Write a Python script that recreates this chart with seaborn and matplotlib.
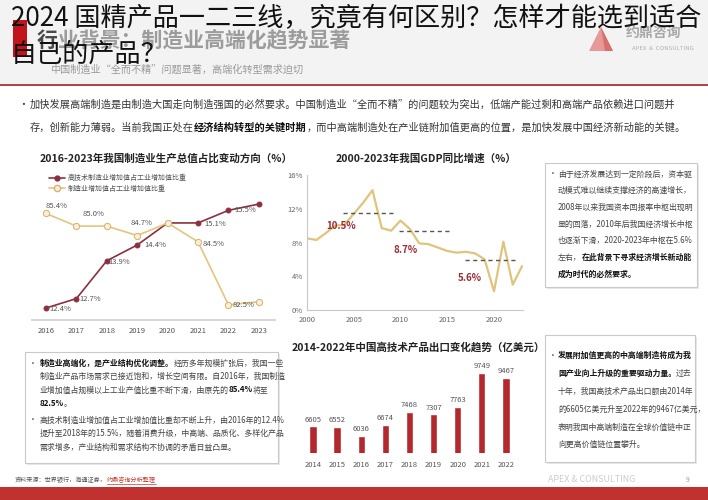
import matplotlib
matplotlib.use("Agg")
import matplotlib.pyplot as plt
import seaborn as sns
from matplotlib.patches import Rectangle, Polygon
from matplotlib.lines import Line2D

# ---------------- data ----------------
mfg_years = [2016, 2017, 2018, 2019, 2020, 2021, 2022, 2023]
hightech_share = [12.4, 12.7, 13.9, 14.4, 15.1, 15.1, 15.5, 15.7]
mfg_share = [85.4, 85.0, 85.0, 84.7, 85.1, 84.5, 82.5, 82.6]
hightech_labeled = [True, True, True, True, False, True, True, False]
mfg_labeled = [True, True, False, True, False, True, True, False]
legend_labels = ["高技术制造业增加值占工业增加值比重", "制造业增加值占工业增加值比重"]

gdp_years = list(range(2000, 2024))
gdp_growth = [8.5, 8.3, 9.1, 10.0, 10.1, 11.4, 12.7, 14.2, 9.7, 9.4, 10.6, 9.6,
              7.9, 7.8, 7.4, 7.0, 6.8, 6.9, 6.7, 6.0, 2.2, 8.1, 3.0, 5.2]
period_start = [2003.9, 2009.8, 2016.9]
period_end = [2009.4, 2015.5, 2022.6]
period_line = [11.5, 9.4, 5.9]
period_avg_labels = ["10.5%", "8.7%", "5.6%"]
period_label_x = [2003.6, 2010.5, 2017.4]
period_label_y = [9.95, 7.1, 3.8]
gdp_yticks = [0, 4, 8, 12, 16]
gdp_xticks = [2000, 2005, 2010, 2015, 2020]

export_years = ["2014", "2015", "2016", "2017", "2018", "2019", "2020", "2021", "2022"]
exports = [6605, 6552, 6036, 6674, 7468, 7307, 7763, 9749, 9467]

# ---------------- style ----------------
RED = "#8c2f3e"
YEL = "#e3c57f"
BAR = "#b3282d"
GRAY = "#555555"

sns.set_theme(style="white")
plt.rcParams['font.family'] = ['Noto Sans CJK SC', 'DejaVu Sans']
plt.rcParams['axes.unicode_minus'] = False

W, H = 708, 500
fig = plt.figure(figsize=(7.08, 5.0), dpi=100)
fig.patch.set_facecolor('white')
renderer = fig.canvas.get_renderer()


def fx(x):
    return x / W


def fy(y):
    return 1 - y / H


def rect(x0, y0, x1, y1, z=0.5, **kw):
    p = Rectangle((fx(x0), fy(y1)), (x1 - x0) / W, (y1 - y0) / H,
                  transform=fig.transFigure, zorder=z, **kw)
    fig.add_artist(p)
    return p


def runs(x, y, parts, size, va='center', z=3):
    cx = x
    for txt, bold, color in parts:
        t = fig.text(fx(cx), fy(y), txt, fontsize=size,
                     fontweight='bold' if bold else 'normal',
                     color=color, ha='left', va=va, zorder=z)
        bb = t.get_window_extent(renderer=renderer)
        cx += bb.width
    return cx


def box(x0, y0, x1, y1):
    rect(x0 + 2, y0 + 2, x1 + 2, y1 + 2, z=0.6, facecolor='#e8e8e8', edgecolor='none')
    rect(x0, y0, x1, y1, z=0.7, facecolor='white', edgecolor='#c9c9c9', linewidth=0.8)


# ---------------- slide background ----------------
rect(0, 0, 708, 84, facecolor='#f3f3f3', edgecolor='none')
fig.add_artist(Line2D([0, 1], [fy(85), fy(85)], transform=fig.transFigure,
                      color='#a0343a', lw=1.3, zorder=1))
rect(0, 487, 708, 500, facecolor='#c0322f', edgecolor='none')
rect(13, 20, 27, 57, facecolor='#c2141c', edgecolor='none', z=1)

runs(37, 40, [("行", True, "#4a4a4a"), ("业背景：制造业高端化趋势显著", True, "#9c9c9c")], 15)
runs(50, 70, [("中国制造业“全而不精”问题显著，高端化转型需求迫切", False, "#9a9a9a")], 7.3)

# logo
fig.add_artist(Polygon([(fx(589), fy(51)), (fx(601), fy(27)), (fx(613), fy(51))],
                       closed=True, transform=fig.transFigure,
                       facecolor='#e59a98', edgecolor='none', zorder=1))
fig.add_artist(Polygon([(fx(601), fy(27)), (fx(605), fy(51)), (fx(613), fy(51))],
                       closed=True, transform=fig.transFigure,
                       facecolor='#d8706e', edgecolor='none', zorder=1))
runs(626, 33, [("约鼎咨询", True, "#a8a8a8")], 10)
runs(632, 49, [("APEX  &  CONSULTING", False, "#b0b0b0")], 4.3)

# overlay title
runs(11, 19, [("2024 国精产品一二三线，究竟有何区别？怎样才能选到适合", False, "#111111")], 18.8, z=10)
runs(11, 54, [("自己的产品？", False, "#111111")], 18.8, z=10)

# bullet intro
runs(18, 105, [("•", False, "#333333")], 7)
runs(30, 105, [("加快发展高端制造是由制造大国走向制造强国的必然要求。中国制造业“全而不精”的问题较为突出，低端产能过剩和高端产品依赖进口问题并", False, "#333333")], 7.35)
runs(30, 128, [("存，创新能力薄弱。当前我国正处在", False, "#333333"),
               ("经济结构转型的关键时期", True, "#111111"),
               ("，而中高端制造处在产业链附加值更高的位置，是加快发展中国经济新动能的关键。", False, "#333333")], 7.35)

# chart titles
runs(40, 158, [("2016-2023年我国制造业生产总值占比变动方向（%）", True, "#222222")], 7.6)
fig.text(fx(426), fy(158), "2000-2023年我国GDP同比增速（%）", fontsize=7.6,
         fontweight='bold', color='#222222', ha='center', va='center')
runs(292, 347, [("2014-2022年中国高技术产品出口变化趋势（亿美元）", True, "#222222")], 7.6)

# ---------------- left chart ----------------
ax1 = fig.add_axes([fx(32), fy(320), (275 - 32) / W, (320 - 170) / H])
ax1.set_facecolor('none')
sns.lineplot(x=mfg_years, y=hightech_share, ax=ax1, color=RED, marker='o',
             markersize=3.5, markeredgecolor=RED, linewidth=1.2, legend=False)
ax1b = ax1.twinx()
sns.lineplot(x=mfg_years, y=mfg_share, ax=ax1b, color=YEL, marker='o',
             markersize=4.5, markerfacecolor='#f7efdc', markeredgecolor='#d7b46a',
             linewidth=1.2, legend=False)
ax1.set_xlim(2015.54, 2023.53)
ax1.set_ylim(12.02, 16.78)
ax1b.set_ylim(82.02, 86.78)
for a in (ax1, ax1b):
    for s in a.spines.values():
        s.set_visible(False)
    a.set_yticks([])
    a.set_ylabel('')
ax1.spines['bottom'].set_visible(True)
ax1.spines['bottom'].set_color('#d0d0d0')
ax1.set_xticks(mfg_years)
ax1.set_xticklabels([str(y) for y in mfg_years])
ax1.tick_params(axis='x', length=0, pad=5, labelsize=5.5, labelcolor=GRAY)
ax1.set_xlabel('')

red_off = [(3, -1), (3, 0), (2, -1), (7, 0), (0, 0), (6, -1), (6, 0), (0, 0)]
yel_off = [(0, 7), (6, 12), (0, 0), (-7, 13), (0, 0), (5, -2), (4, 0), (0, 0)]
for yr, v, show, off in zip(mfg_years, hightech_share, hightech_labeled, red_off):
    if show:
        ax1.annotate(f"{v}%", (yr, v), xytext=(off[0] * 0.72, off[1] * 0.72),
                     textcoords='offset points', ha='left', va='center',
                     fontsize=5.5, color=GRAY)
for yr, v, show, off in zip(mfg_years, mfg_share, mfg_labeled, yel_off):
    if show:
        ax1b.annotate(f"{v:.1f}%", (yr, v), xytext=(off[0] * 0.72, off[1] * 0.72),
                      textcoords='offset points', ha='left', va='center',
                      fontsize=5.5, color=GRAY)

handles = [Line2D([], [], color=RED, marker='o', markersize=3.5, lw=1.2),
           Line2D([], [], color=YEL, marker='o', markersize=4.5,
                  markerfacecolor='#f7efdc', markeredgecolor='#d7b46a', lw=1.2)]
ax1b.legend(handles, legend_labels, loc='upper left', bbox_to_anchor=(0.06, 0.99),
            frameon=False, fontsize=5, labelcolor=GRAY, handlelength=2.2,
            handletextpad=0.4, labelspacing=0.35, borderaxespad=0)

# ---------------- middle chart ----------------
ax2 = fig.add_axes([fx(307), fy(310), (523 - 307) / W, (310 - 175) / H])
ax2.set_facecolor('none')
sns.lineplot(x=gdp_years, y=gdp_growth, ax=ax2, color='#dfc47c', linewidth=1.6)
ax2.hlines(period_line, period_start, period_end, colors='#555555',
           linestyles=(0, (3, 2.5)), linewidth=1.0)
for lx, ly, lab in zip(period_label_x, period_label_y, period_avg_labels):
    ax2.text(lx, ly, lab, ha='center', va='center', fontsize=7, fontweight='bold', color='#9b2d35')
ax2.set_xlim(2000, 2023.1)
ax2.set_ylim(0, 16)
ax2.set_yticks(gdp_yticks)
ax2.set_yticklabels([f"{t}%" for t in gdp_yticks])
ax2.set_xticks(gdp_xticks)
ax2.set_xticklabels([str(t) for t in gdp_xticks])
ax2.tick_params(length=0, labelsize=5.5, labelcolor='#666666')
ax2.tick_params(axis='y', pad=3)
ax2.tick_params(axis='x', pad=4)
for k in ('top', 'right'):
    ax2.spines[k].set_visible(False)
for k in ('left', 'bottom'):
    ax2.spines[k].set_color('#c8c8c8')
    ax2.spines[k].set_linewidth(0.8)
ax2.set_xlabel('')
ax2.set_ylabel('')

# ---------------- bottom bar chart ----------------
ax3 = fig.add_axes([fx(298), fy(452.7), (520 - 298) / W, (452.7 - 355) / H])
ax3.set_facecolor('none')
sns.barplot(x=export_years, y=exports, ax=ax3, color=BAR, width=0.3, saturation=1)
ax3.set_ylim(5050, 10807)
ax3.set_xlim(-0.62, 8.58)
for c in ax3.containers:
    ax3.bar_label(c, labels=[str(v) for v in exports], padding=2, fontsize=5.5, color=GRAY)
for s in ax3.spines.values():
    s.set_visible(False)
ax3.set_yticks([])
ax3.tick_params(axis='x', length=0, pad=6, labelsize=5.5, labelcolor=GRAY)
ax3.set_xlabel('')
ax3.set_ylabel('')

# ---------------- text boxes ----------------
box(545, 163, 697, 287)
tc = "#444444"
bc = "#111111"
ts = 5.7
rt_y = [174, 190.7, 207.4, 224, 240.8, 257.5, 274]
runs(549, rt_y[0], [("•", False, tc)], ts)
rt_lines = [
    [("由于经济发展达到一定阶段后，资本驱", False, tc)],
    [("动模式难以继续支撑经济的高速增长，", False, tc)],
    [("2008年以来我国资本回报率中枢出现明", False, tc)],
    [("显的回落，2010年后我国经济增长中枢", False, tc)],
    [("也逐渐下滑，2020-2023年中枢在5.6%", False, tc)],
    [("左右，", False, tc), ("在此背景下寻求经济增长新动能", True, bc)],
    [("成为时代的必然要求。", True, bc)],
]
for yy, parts in zip(rt_y, rt_lines):
    runs(558, yy, parts, ts)

box(25, 352, 278, 463)
bl_y = [363, 376.5, 390, 403.5, 420, 433.5, 447]
runs(29, bl_y[0], [("•", False, tc)], ts)
runs(29, bl_y[4], [("•", False, tc)], ts)
bl_lines = [
    [("制造业高端化，是产业结构优化调整。", True, bc), ("经历多年规模扩张后，我国一些", False, tc)],
    [("制造业产品市场需求已接近饱和，增长空间有限。自2016年，我国制造", False, tc)],
    [("业增加值占规模以上工业产值比重不断下滑，由原先的", False, tc), ("85.4%", True, bc), ("将至", False, tc)],
    [("82.5%", True, bc), ("。", False, tc)],
    [("高技术制造业增加值占工业增加值比重却不断上升，由2016年的12.4%", False, tc)],
    [("提升至2018年的15.5%，随着消费升级，中高端、品质化、多样化产品", False, tc)],
    [("需求增多，产业结构和需求结构不协调的矛盾日益凸显。", False, tc)],
]
for yy, parts in zip(bl_y, bl_lines):
    runs(40, yy, parts, ts)

box(545, 335, 695, 462)
br_y = [355, 373, 391.5, 409.5, 427, 444.5]
runs(549, br_y[0], [("•", False, tc)], ts)
br_lines = [
    [("发展附加值更高的中高端制造将成为我", True, bc)],
    [("国产业向上升级的重要驱动力量。", True, bc), ("过去", False, tc)],
    [("十年，我国高技术产品出口额由2014年", False, tc)],
    [("的6605亿美元升至2022年的9467亿美元，", False, tc)],
    [("表明我国中高端制造在全球价值链中正", False, tc)],
    [("向更高价值链位置攀升。", False, tc)],
]
for yy, parts in zip(br_y, br_lines):
    runs(558, yy, parts, ts)

# ---------------- footer ----------------
x_end = runs(15, 480, [("资料来源：世界银行，海通证券，", False, "#555555")], 4.4)
x_end2 = runs(x_end, 480, [("约鼎咨询分析整理", False, "#c0392b")], 4.4)
fig.add_artist(Line2D([fx(x_end), fx(x_end2)], [fy(484), fy(484)], transform=fig.transFigure,
                      color='#c0392b', lw=0.5, zorder=3))
runs(548, 480, [("APEX & CONSULTING", False, "#cccccc")], 6.4)
runs(686, 480, [("9", False, "#999999")], 5)

fig.savefig("out.png", dpi=100)
